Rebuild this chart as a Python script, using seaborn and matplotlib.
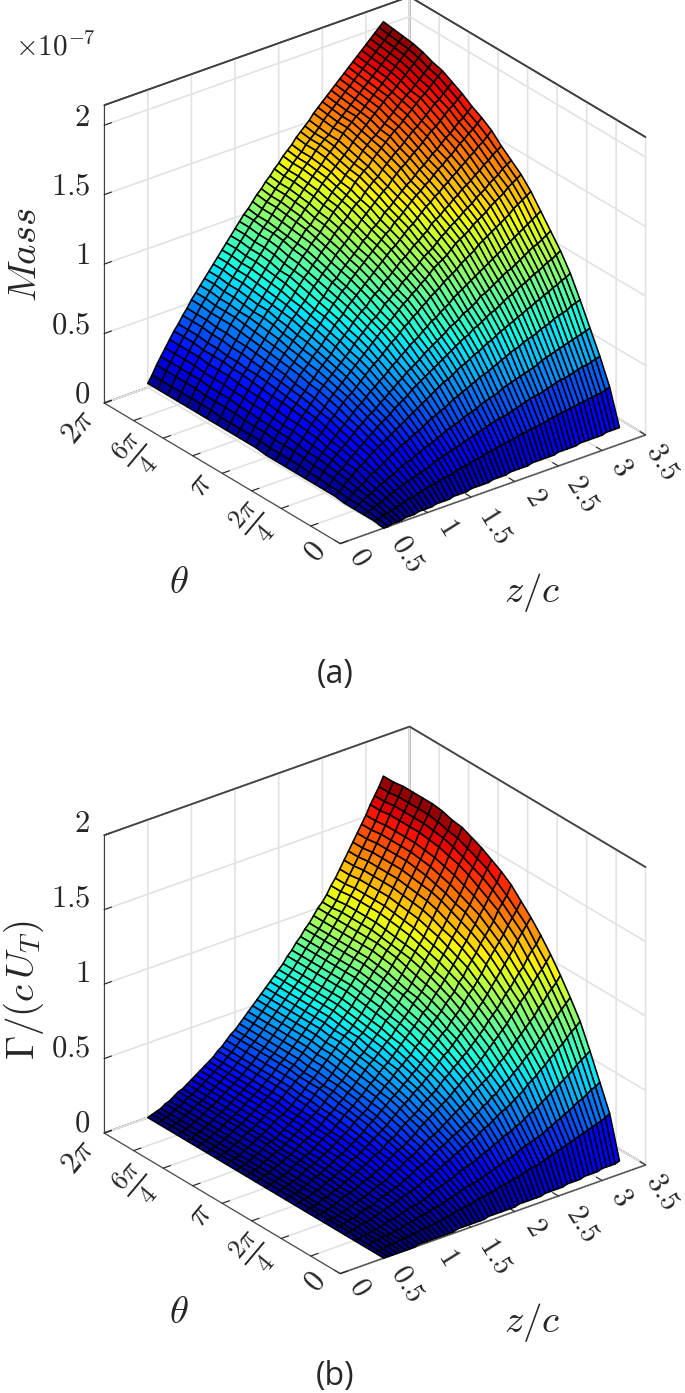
import matplotlib
matplotlib.use("Agg")
import matplotlib.pyplot as plt
import numpy as np
import seaborn as sns

theta_deg = [0, 15, 30, 45, 60, 75, 90, 105, 120, 135, 150, 165, 180, 195, 210, 225, 240, 255, 270, 285, 300, 315, 330, 345, 360]
zc = [0.5, 0.55, 0.6, 0.65, 0.7, 0.75, 0.8, 0.85, 0.9, 0.95, 1.0, 1.05, 1.1, 1.15, 1.2, 1.25, 1.3, 1.35, 1.4, 1.45,
      1.5, 1.55, 1.6, 1.65, 1.7, 1.75, 1.8, 1.85, 1.9, 1.95, 2.0, 2.05, 2.1, 2.15, 2.2, 2.25, 2.3, 2.35, 2.4, 2.45,
      2.5, 2.55, 2.6, 2.65, 2.7, 2.75, 2.8, 2.85, 2.9, 2.95, 3.0, 3.05, 3.1, 3.15, 3.2]

# mass, 1e-9 units, one row per theta
mass = [
    [0,0,1,1,1,2,2,2,3,3,3,3,4,4,4,4,5,5,5,5,6,6,6,6,6,7,7,7,7,8,8,8,8,8,9,9,9,9,9,9,10,10,10,10,10,11,11,11,11,11,11,12,12,12,12],
    [1,1,3,3,4,5,6,7,8,8,9,10,11,12,12,13,14,14,15,16,17,17,18,19,19,20,21,21,22,23,23,24,24,25,26,26,27,27,28,28,29,30,30,31,31,32,32,33,33,34,34,35,35,36,37],
    [1,2,4,5,6,8,9,10,12,13,14,15,16,17,18,19,21,22,23,24,25,26,27,28,29,30,31,32,33,34,35,36,36,37,38,39,40,41,42,43,43,44,45,46,47,48,48,49,50,51,52,52,53,54,55],
    [1,3,5,7,8,10,12,13,15,16,18,20,21,22,24,25,27,28,29,31,32,34,35,36,37,39,40,41,42,44,45,46,47,48,50,51,52,53,54,55,56,57,58,60,61,62,63,64,65,66,67,68,69,70,71],
    [1,3,6,8,10,12,15,16,18,20,22,24,26,28,29,31,33,34,36,38,40,41,43,44,46,48,49,51,52,54,55,57,58,59,61,62,64,65,67,68,69,71,72,73,74,76,77,78,80,81,82,83,85,86,87],
    [2,4,7,10,12,15,17,19,22,24,26,28,30,32,34,36,38,40,42,44,46,48,50,52,54,56,57,59,61,63,64,66,68,69,71,73,74,76,78,79,81,82,84,85,87,88,90,91,93,94,96,97,99,100,102],
    [2,4,8,11,13,16,19,21,24,26,29,31,34,36,38,40,43,45,47,49,52,54,56,58,60,62,64,66,68,70,72,74,76,77,80,81,83,85,87,88,90,92,94,95,97,99,100,102,104,105,107,109,110,112,114],
    [2,5,9,12,15,18,21,23,26,29,32,34,37,39,41,44,46,49,51,54,56,59,61,63,65,68,70,72,74,76,78,81,82,84,87,88,90,92,95,96,98,100,102,104,106,107,109,111,113,115,117,118,120,122,124],
    [2,5,9,13,16,19,22,25,28,31,34,37,40,42,45,48,50,53,55,58,61,63,66,68,71,73,75,78,80,83,84,87,89,91,94,96,98,100,102,104,106,108,110,112,114,116,118,120,122,124,126,128,130,132,134],
    [2,6,10,13,17,21,24,27,31,33,37,40,43,45,48,51,54,57,60,62,65,68,71,73,76,79,81,84,86,89,91,94,96,98,101,103,105,107,110,112,114,116,119,121,123,125,127,129,131,133,136,138,140,142,144],
    [2,6,11,14,18,22,26,29,32,35,39,42,45,48,51,54,57,60,63,66,69,72,75,77,80,83,86,89,91,94,96,99,101,104,107,109,111,113,116,119,121,123,125,128,130,132,134,137,139,141,143,146,148,150,152],
    [2,6,11,15,19,23,27,30,34,37,41,44,47,50,53,56,59,62,66,69,72,75,78,80,83,87,89,92,94,98,100,103,105,108,111,113,115,118,121,123,126,128,130,133,135,137,140,142,144,147,149,151,154,156,158],
    [2,6,11,15,19,23,28,31,35,38,42,45,49,52,55,58,62,65,68,71,75,78,81,83,87,90,92,96,98,101,104,107,109,112,115,117,120,122,126,128,130,133,135,138,140,143,145,147,150,152,155,157,160,162,164],
    [3,7,12,16,20,24,29,32,36,39,44,47,50,54,57,60,64,67,71,74,77,81,84,87,90,93,96,99,102,105,108,111,113,116,119,122,124,127,130,133,135,138,140,143,145,148,150,153,155,158,160,163,165,168,171],
    [3,7,12,16,21,25,29,33,37,41,45,48,52,55,59,62,66,69,73,76,80,83,87,89,93,96,99,102,105,108,111,114,117,119,123,125,128,131,134,137,139,142,144,147,150,152,155,157,160,163,165,168,170,173,176],
    [3,7,12,17,21,26,30,34,38,42,46,50,53,57,60,64,67,71,74,78,81,85,89,91,95,98,101,104,107,111,113,117,119,122,126,128,131,134,137,140,142,145,148,150,153,156,158,161,164,166,169,172,174,177,180],
    [3,7,13,17,22,26,31,35,39,43,47,51,55,58,62,66,69,73,76,80,84,87,91,94,97,101,104,107,110,114,116,120,123,126,129,132,135,137,141,144,147,149,152,155,157,160,163,166,168,171,174,177,179,182,185],
    [3,7,13,18,22,27,32,35,40,44,48,52,56,60,63,67,71,74,78,82,86,89,93,96,100,103,106,110,113,116,119,123,126,128,132,135,138,140,144,147,150,153,155,158,161,164,166,169,172,175,178,180,183,186,189],
    [3,8,13,18,23,28,32,36,41,45,49,53,57,61,65,68,72,76,80,84,87,91,95,98,102,105,108,112,115,119,122,125,128,131,135,138,141,143,147,150,153,156,159,162,164,167,170,173,176,179,181,184,187,190,193],
    [3,8,13,18,23,28,33,36,41,45,50,54,58,61,65,69,73,77,81,84,88,92,96,99,103,107,109,113,116,120,123,127,130,132,136,139,142,145,149,152,155,157,160,163,166,169,172,175,178,180,183,186,189,192,195],
    [3,8,14,19,23,28,33,37,42,46,51,55,58,62,66,70,74,78,82,86,90,94,98,100,104,108,111,115,118,122,125,129,132,135,138,141,144,147,151,154,157,160,163,166,169,172,175,177,180,183,186,189,192,195,198],
    [3,8,14,19,24,29,33,37,42,46,51,55,59,63,67,71,75,79,83,87,91,95,99,101,105,109,112,116,119,123,126,130,133,136,140,143,146,149,153,156,159,162,164,167,170,173,176,179,182,185,188,191,194,197,200],
    [3,8,14,19,24,29,34,38,43,47,51,55,59,63,67,71,75,79,83,87,91,95,99,102,106,110,113,117,120,124,127,131,134,137,141,144,147,149,153,156,159,162,165,168,171,174,177,180,183,186,189,192,195,198,201],
    [3,8,14,19,24,29,34,38,43,47,52,56,60,64,68,72,76,80,84,88,92,96,100,102,106,110,113,117,120,124,127,131,134,137,141,144,147,150,154,157,160,163,166,169,172,175,178,181,184,187,190,193,196,199,202],
    [3,8,14,19,24,29,34,38,43,47,52,56,60,64,68,72,76,80,84,88,92,96,100,103,107,111,114,118,121,125,128,132,135,138,142,145,148,151,155,158,161,164,167,170,173,176,179,182,185,188,191,194,197,200,203],
]

# circulation, hundredths, one row per theta
gamma = [
    [0,0,0,0,0,0,0,0,1,1,1,1,1,1,1,1,1,2,2,2,2,2,2,2,3,3,3,3,3,3,3,4,4,4,4,4,4,5,5,5,5,5,6,6,6,6,7,7,7,7,8,8,8,8,9],
    [0,0,0,1,1,1,2,2,2,3,3,4,4,4,5,5,6,6,7,8,8,9,9,10,11,11,12,12,13,14,14,15,16,16,17,18,19,19,20,21,22,23,24,25,26,27,28,29,30,31,32,33,34,35,37],
    [0,0,1,1,2,2,2,3,3,4,5,5,6,7,7,8,9,9,10,11,12,13,14,15,16,16,17,18,19,20,21,22,23,24,25,26,28,29,30,31,32,33,35,36,38,39,41,42,44,46,47,49,51,52,54],
    [0,0,1,1,2,2,3,4,5,5,6,7,8,9,9,10,11,12,14,15,16,17,18,19,21,22,23,24,25,27,28,29,31,32,34,35,36,38,39,41,43,44,46,48,50,52,54,56,58,60,62,65,67,69,71],
    [0,1,1,2,3,3,4,5,6,7,8,9,10,11,12,13,14,15,17,18,19,21,22,24,25,27,28,30,31,33,34,36,38,39,41,43,45,46,48,50,52,54,57,59,61,64,66,69,71,74,76,79,82,84,87],
    [0,1,1,2,3,3,5,6,6,7,9,10,11,12,13,14,16,17,19,21,22,23,25,27,29,30,32,34,35,37,39,40,43,44,47,48,51,52,55,57,59,62,64,67,70,72,75,78,81,84,87,90,93,96,99],
    [0,1,1,2,3,4,5,6,7,8,9,11,12,13,14,16,18,19,21,23,24,26,28,30,32,33,35,37,39,41,43,45,47,49,52,54,56,58,60,63,66,68,71,74,77,80,83,86,89,93,96,100,103,106,110],
    [0,1,1,2,3,4,6,7,8,9,10,12,13,14,16,17,19,21,23,25,26,28,30,32,35,37,39,41,43,45,47,49,52,54,57,59,61,63,66,69,72,75,78,81,84,88,91,95,98,101,105,109,112,116,120],
    [0,1,1,2,4,4,6,7,8,10,11,13,14,16,17,19,21,22,24,27,28,30,33,35,37,39,41,44,46,48,50,53,56,58,61,63,66,68,71,74,77,80,84,87,90,94,98,101,105,109,112,117,121,124,129],
    [0,1,2,2,4,5,6,8,9,10,12,13,15,17,18,20,22,24,26,28,30,32,35,37,40,42,44,47,49,51,54,56,59,62,65,67,70,73,76,79,82,85,89,92,96,100,104,108,112,116,120,125,129,133,137],
    [0,1,2,2,4,5,7,8,9,11,12,14,16,17,19,21,23,25,27,30,32,34,37,39,42,44,46,49,51,54,56,59,62,65,68,71,74,76,80,83,86,90,94,97,101,105,110,114,118,122,126,131,135,139,144],
    [0,1,2,3,4,5,7,9,10,11,13,15,16,18,20,22,24,26,29,31,33,35,38,41,43,46,48,51,54,56,59,61,65,67,71,74,77,80,83,87,90,93,98,101,106,110,114,119,123,127,131,137,141,145,151],
    [0,1,2,3,4,5,7,9,10,12,13,15,17,19,21,22,25,27,30,32,34,37,39,42,45,47,50,53,55,58,61,64,67,70,73,76,80,82,86,90,93,97,101,105,109,114,118,123,127,132,136,141,146,150,156],
    [0,1,2,3,5,6,7,9,10,12,14,16,17,19,21,23,26,28,30,33,35,38,40,43,46,49,52,54,57,60,63,65,69,72,75,78,82,85,88,92,96,99,104,108,112,117,121,126,131,135,140,145,150,155,160],
    [0,1,2,3,5,6,8,9,10,12,14,16,18,20,22,24,26,28,31,34,36,39,41,44,47,50,53,55,58,61,64,67,71,73,77,80,84,86,90,94,98,102,106,110,115,119,124,129,133,138,143,149,153,158,164],
    [0,1,2,3,5,6,8,10,11,12,14,16,18,20,22,24,27,29,32,35,36,39,42,45,48,51,54,57,60,62,65,68,72,75,79,82,85,88,92,96,100,104,108,112,117,122,127,132,136,141,146,152,156,161,167],
    [0,1,2,3,5,6,8,10,11,13,15,17,19,20,22,24,27,29,32,35,37,40,43,46,49,52,55,58,60,63,66,69,73,76,80,83,87,90,94,98,101,105,110,114,119,124,129,134,138,143,148,154,159,164,170],
    [0,1,2,3,5,6,8,10,11,13,15,17,19,21,23,25,28,30,33,35,37,40,43,46,49,52,55,58,61,64,67,70,74,77,81,84,88,91,95,99,102,106,111,115,120,125,130,135,140,145,150,156,161,165,171],
    [0,1,2,3,5,6,8,10,11,13,15,17,19,21,23,25,28,30,33,36,38,41,44,47,50,53,56,59,62,65,68,71,75,78,82,85,89,92,96,100,103,107,112,116,121,126,131,136,141,146,151,157,162,167,173],
    [0,1,2,3,5,6,8,10,11,13,15,17,19,21,23,25,28,30,33,36,38,41,44,47,50,53,56,59,62,65,68,71,75,78,82,85,89,92,96,100,104,108,113,117,122,127,132,137,142,147,152,158,163,168,174],
    [0,1,2,3,5,6,8,10,11,13,15,17,19,21,23,25,28,30,33,36,38,41,44,47,50,53,56,59,62,65,68,71,75,78,82,85,89,92,96,100,104,108,113,117,122,127,132,137,142,147,152,158,163,168,174],
    [0,1,2,3,5,6,8,10,11,13,15,17,19,21,23,25,28,30,33,36,38,41,44,47,50,53,56,59,62,65,68,71,75,78,82,85,89,92,96,100,104,108,113,117,122,127,132,137,142,147,152,158,163,168,174],
    [0,1,2,3,5,6,8,10,11,13,15,17,19,21,23,25,28,30,33,36,38,41,44,47,50,53,56,59,62,65,68,71,75,78,82,85,89,92,96,100,104,108,113,117,122,127,132,137,142,147,152,158,163,168,174],
    [0,1,2,3,5,6,8,10,11,13,15,17,19,21,23,25,28,30,33,36,38,41,44,47,50,53,56,59,62,65,68,71,75,78,82,85,89,92,96,100,103,107,112,116,121,126,131,136,141,146,151,157,162,167,173],
    [0,1,2,3,5,6,8,10,11,13,15,17,19,21,23,25,28,30,33,36,38,41,44,47,50,53,56,59,62,65,68,71,75,78,82,85,89,92,96,100,103,107,112,116,121,126,131,136,141,146,151,157,162,167,173],
]

zc_ticks = [0, 0.5, 1, 1.5, 2, 2.5, 3, 3.5]
zc_labels = ["$0$", "$0.5$", "$1$", "$1.5$", "$2$", "$2.5$", "$3$", "$3.5$"]
theta_ticks = [k*np.pi/4 for k in range(9)]
theta_labels = ["$0$", r"$\frac{2\pi}{4}$", r"$\pi$", r"$\frac{6\pi}{4}$", r"$2\pi$"]
theta_sizes = [22, 27, 24, 27, 22]
z_ticks = [0, 0.5, 1, 1.5, 2]
z_labels = ["$0$", "$0.5$", "$1$", "$1.5$", "$2$"]

# where the tick labels sit, pixels, panel (a)
zc_label_xy = [(360, 557), (408, 553), (448, 527), (496, 525), (535, 497), (583, 493), (622, 467), (663, 461)]
theta_label_xy = [(315, 552), (254, 523), (200, 485), (136, 455), (78, 427)]

w, h = 685, 1393
sns.set_style("white")
plt.rcParams["mathtext.fontset"] = "cm"
cmap = plt.get_cmap("jet")

fig = plt.figure(figsize=(w/100, h/100), dpi=100)


def label(x, y, s, size, **kw):
    kw.setdefault("ha", "center")
    fig.text(x/w, 1-y/h, s, fontsize=size, va="center", **kw)


def panel(table, top, zmax, z_label_y):
    side = 622
    ax = fig.add_axes([55.5/w, 1-(top+side)/h, side/w, side/h], projection="3d", proj_type="ortho")
    ax.set_box_aspect((1, 1, 0.869))
    ax.view_init(elev=27.4, azim=-127.7)
    X, Y = np.meshgrid(zc, np.deg2rad(theta_deg))
    Z = np.array(table)/100
    ax.plot_surface(X, Y, Z, cmap=cmap, vmin=0, vmax=Z.max(), rcount=Z.shape[0], ccount=Z.shape[1],
                    edgecolor="black", linewidth=1.15, shade=False, antialiased=True)
    ax.set_xlim(0, 3.5)
    ax.set_ylim(0, 2*np.pi)
    ax.set_zlim(0, zmax)
    ax.set_xticks(zc_ticks)
    ax.set_yticks(theta_ticks)
    ax.set_zticks(z_ticks)
    ax.set_xticklabels([])
    ax.set_yticklabels([])
    ax.set_zticklabels([])
    for axis in (ax.xaxis, ax.yaxis, ax.zaxis):
        axis.set_pane_color((1, 1, 1, 1))
        axis.pane.set_edgecolor("#404040")
        axis.pane.set_linewidth(1.2)
        axis._axinfo["grid"].update(color="#e2e2e2", linewidth=1.2)
        axis._axinfo["tick"].update(inward_factor=0.0, outward_factor=0.3)
        axis.line.set_color("#404040")
    # grid at the box top would hide the wall edge
    ax.plot([0, 3.5, 3.5], [2*np.pi, 2*np.pi, 0], [zmax, zmax, zmax], color="#404040", lw=1.2)
    dy = top + 32.5
    for s, (x, y) in zip(zc_labels, zc_label_xy):
        label(x, y + dy, s, 21, rotation=-58)
    for s, (x, y), size in zip(theta_labels, theta_label_xy, theta_sizes):
        label(x, y + dy, s, size, rotation=50)
    for s, y in zip(z_labels, z_label_y):
        label(90, y, s, 22, ha="right")
    return ax


panel(mass, -32.5, 2.144, [394, 325, 255, 186, 117])
panel(gamma, 697.5, 2.0, [1123, 1048, 973, 898, 823])

label(55.5, 47, r"$\times 10^{-7}$", 21)
label(25, 255, r"$Mass$", 28, rotation=90)
label(179, 582, r"$\theta$", 28)
label(532, 592, r"$z/c$", 28)
label(335, 675, "(a)", 23, family="Open Sans")
label(24, 990, r"$\Gamma/(c\,U_T)$", 28, rotation=90)
label(179, 1312, r"$\theta$", 28)
label(532, 1322, r"$z/c$", 28)
label(335, 1376, "(b)", 23, family="Open Sans")

fig.savefig("out.png", dpi=100)
